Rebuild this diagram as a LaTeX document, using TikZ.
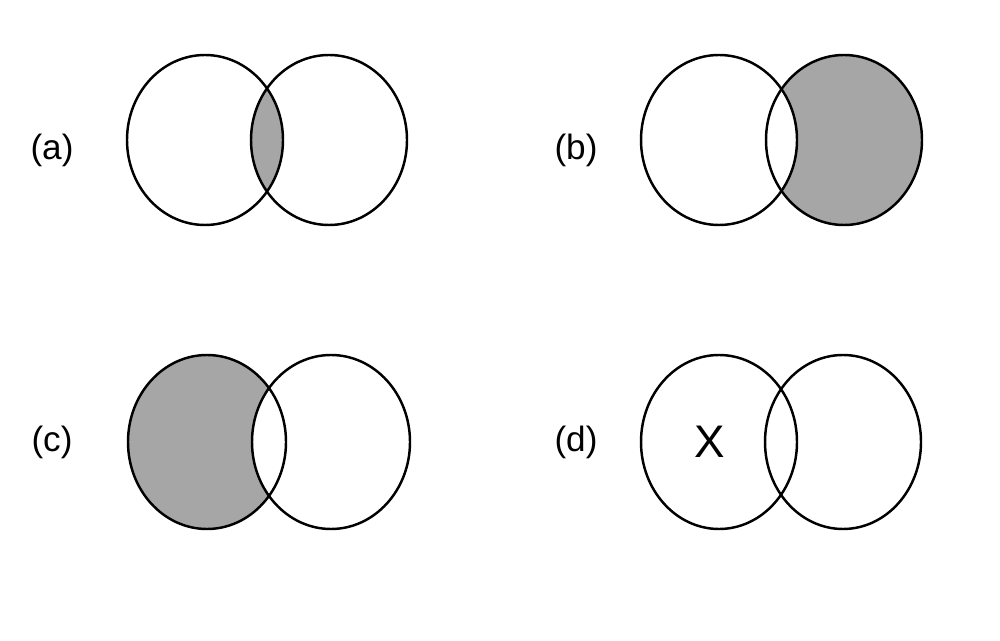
\documentclass[tikz,border=0pt]{standalone}
\usepackage{fontspec}
\setsansfont{Liberation Sans}
\begin{document}
\begin{tikzpicture}[x=0.02cm,y=-0.02cm,
  ring/.style={line width=1.4pt},
  shade/.style={fill=black!35},
  lbl/.style={font=\fontsize{20}{24}\selectfont\sffamily}]
  \useasboundingbox (0,0) rectangle (1000,641);
  % (a) intersection
  \begin{scope}
    \clip (205,140) ellipse [x radius=78,y radius=85];
    \fill[shade] (329,140) ellipse [x radius=78,y radius=85];
  \end{scope}
  \draw[ring] (205,140) ellipse [x radius=78,y radius=85];
  \draw[ring] (329,140) ellipse [x radius=78,y radius=85];
  \node[lbl] (la) at (52,150) {(a)};
  % (b) right only
  \fill[shade] (844,140) ellipse [x radius=78,y radius=85];
  \fill[white] (719,140) ellipse [x radius=78,y radius=85];
  \draw[ring] (719,140) ellipse [x radius=78,y radius=85];
  \draw[ring] (844,140) ellipse [x radius=78,y radius=85];
  \node[lbl] (lb) at (576,150) {(b)};
  % (c) left only
  \fill[shade] (207,442) ellipse [x radius=79,y radius=87];
  \fill[white] (331,442) ellipse [x radius=79,y radius=87];
  \draw[ring] (207,442) ellipse [x radius=79,y radius=87];
  \draw[ring] (331,442) ellipse [x radius=79,y radius=87];
  \node[lbl] (lc) at (52,442) {(c)};
  % (d) marked element
  \draw[ring] (719,442) ellipse [x radius=78,y radius=87];
  \draw[ring] (843,442) ellipse [x radius=78,y radius=87];
  \node[lbl] (ld) at (576,442) {(d)};
  \node[lbl,font=\fontsize{26}{30}\selectfont\sffamily] (mark) at (710,442) {X};
\end{tikzpicture}
\end{document}
